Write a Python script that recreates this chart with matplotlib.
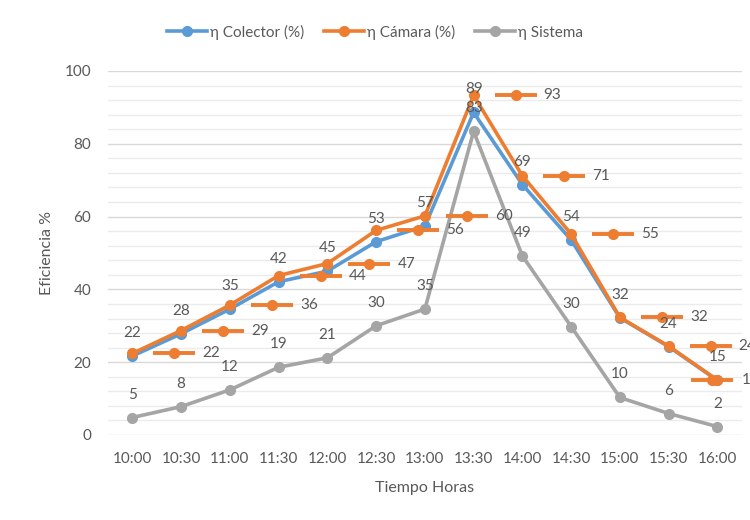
import matplotlib.pyplot as plt
from matplotlib.transforms import ScaledTranslation

horas = ["10:00", "10:30", "11:00", "11:30", "12:00", "12:30", "13:00",
         "13:30", "14:00", "14:30", "15:00", "15:30", "16:00"]
colector = [21.7, 27.8, 34.6, 42.1, 45.0, 53.1, 57.4, 88.6, 68.8, 53.6, 32.2, 24.3, 15.0]
camara = [22.4, 28.7, 35.7, 43.8, 47.1, 56.2, 60.2, 93.3, 71.2, 55.2, 32.3, 24.4, 15.1]
sistema = [4.8, 7.8, 12.4, 18.6, 21.2, 30.0, 34.6, 83.4, 49.2, 29.8, 10.3, 5.9, 2.3]

plt.rcParams['font.family'] = ['Lato', 'DejaVu Sans']
texto = '#595959'
azul, naranja, gris = '#5B9BD5', '#ED7D31', '#A5A5A5'

fig = plt.figure(figsize=(7.5, 5.2), dpi=100)
ax = fig.add_axes([0.144, 0.1635, 0.845, 0.7])
x = list(range(len(horas)))

estilo = dict(lw=2.6, marker='o', ms=7)
ax.plot(x, colector, color=azul, label='η Colector (%)', **estilo)
ax.plot(x, camara, color=naranja, label='η Cámara (%)', **estilo)
ax.plot(x, sistema, color=gris, label='η Sistema', **estilo)

# etiquetas encima del punto
for serie in (colector, sistema):
    for i, v in enumerate(serie):
        ax.annotate(f"{v:.0f}", (i, v), xytext=(0, 23), textcoords='offset pixels',
                    ha='center', va='center', fontsize=11, color=texto)

# etiquetas de la cámara con clave de leyenda, desplazadas a la derecha
for i, v in enumerate(camara):
    dx_key, dx_txt = 42, 70
    if i == len(camara) - 1:
        dx_key, dx_txt = -5, 24
    off = ax.transData + ScaledTranslation(dx_key / 100, 0, fig.dpi_scale_trans)
    ax.plot([i], [v], marker='_', ms=30, mew=2.8, color=naranja, transform=off, clip_on=False)
    ax.plot([i], [v], marker='o', ms=7, color=naranja, transform=off, clip_on=False)
    ax.annotate(f"{v:.0f}", (i, v), xytext=(dx_txt, 0), textcoords='offset pixels',
                ha='left', va='center', fontsize=11, color=texto, annotation_clip=False)

ax.set_xlim(-0.5, len(horas) - 0.5)
ax.set_ylim(0, 100)
ax.set_xticks(x)
ax.set_xticklabels(horas)
ax.set_yticks(range(0, 101, 20))
ax.set_yticks(range(0, 101, 4), minor=True)
ax.grid(axis='y', which='major', color='#d9d9d9', lw=1)
ax.grid(axis='y', which='minor', color='#ebebeb', lw=1)
ax.set_axisbelow(True)
ax.tick_params(which='both', length=0, labelsize=11, labelcolor=texto)
ax.tick_params(axis='x', pad=12)
ax.tick_params(axis='y', pad=12)
for s in ax.spines.values():
    s.set_visible(False)

ax.set_xlabel('Tiempo Horas', fontsize=11.5, color=texto, labelpad=11)
ax.set_ylabel('Eficiencia %', fontsize=11.5, color=texto, labelpad=8)

fig.legend(loc='center', bbox_to_anchor=(0.5, 1 - 32 / 520), ncol=3, frameon=False,
           fontsize=11, handlelength=2.6, handletextpad=0.2, columnspacing=1.3,
           labelcolor=texto)

fig.savefig('out.png', dpi=100)
